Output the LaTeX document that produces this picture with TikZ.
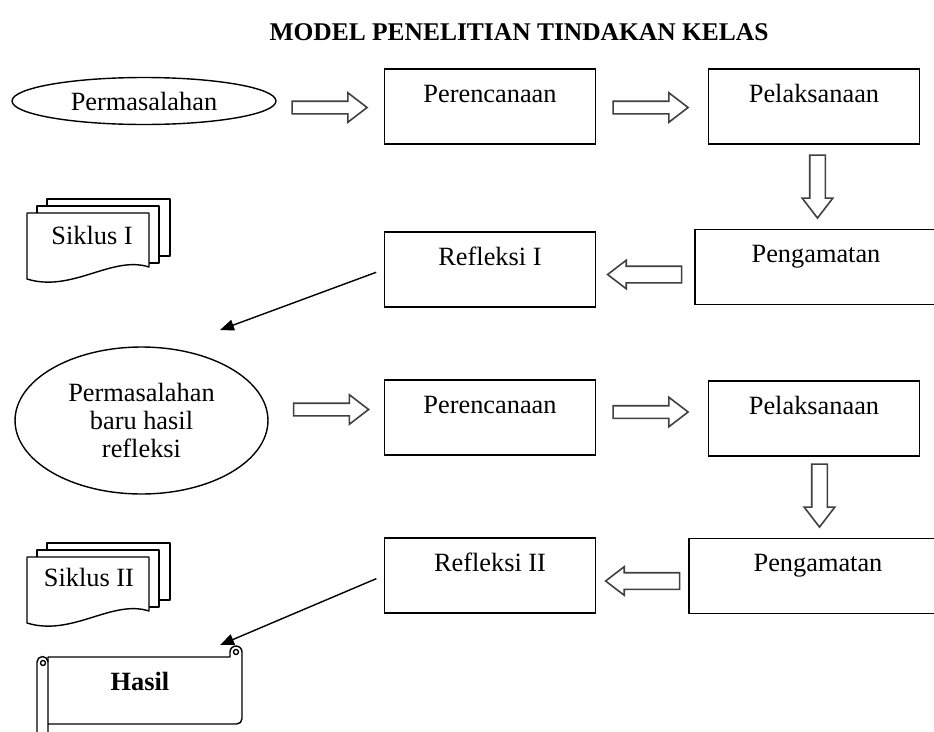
\documentclass[tikz,border=0pt]{standalone}
\usepackage{fontspec}
\setmainfont{Liberation Serif}
\usetikzlibrary{shapes.geometric, shapes.arrows, arrows.meta}
% stack of three sheets, #1,#2 = top-left corner of the front sheet
\providecommand{\multidoc}[2]{%
  \begin{scope}[shift={(#1,#2)}]
    \draw[sheet] (20,-7) -- (20,-14) -- (143,-14) -- (143,43) -- (132,43);
    \draw[sheet] (10,0) -- (10,-7) -- (132,-7) -- (132,50) -- (122,50);
    \draw[sheet, fill=white] (0,0) -- (122,0) -- (122,54)
      .. controls (85,42) and (45,80) .. (0,66) -- cycle;
  \end{scope}}

\begin{document}
\begin{tikzpicture}[
  x=0.02cm, y=-0.02cm,
  txt/.style    = {font=\fontsize{15}{16}\selectfont, inner sep=0pt},
  stage/.style  = {draw, line width=0.9pt, inner sep=0pt,
                   minimum width=4.22cm, text height=0.66cm, text depth=0.84cm,
                   font=\fontsize{15}{16}\selectfont},
  prob/.style   = {ellipse, draw, line width=0.8pt, inner sep=0pt, align=center,
                   font=\fontsize{15}{16}\selectfont},
  barrow/.style = {single arrow, draw=black!75, line width=0.9pt,
                   inner xsep=0pt, inner ysep=0.11cm,
                   minimum height=1.5cm, minimum width=0.56cm,
                   single arrow head extend=0.17cm, single arrow tip angle=75},
  darrow/.style = {barrow, rotate=-90, inner ysep=0.14cm, minimum height=1.26cm,
                   minimum width=0.58cm, single arrow head extend=0.15cm},
  larrow/.style = {barrow, rotate=180, inner ysep=0.15cm, minimum height=1.48cm,
                   minimum width=0.54cm, single arrow head extend=0.12cm},
  sheet/.style  = {draw, line width=0.8pt, line join=round},
  lead/.style   = {-{Triangle[length=0.28cm,width=0.22cm]}, line width=0.8pt,
                   shorten <=0.16cm},
  hd/.style     = {font=\fontsize{14.5}{17}\selectfont\bfseries, inner sep=0pt},
]
\clip (0,0) rectangle (934,731);
\fill[white] (0,0) rectangle (934,731);

\node[hd] (title) at (519,32) {MODEL PENELITIAN TINDAKAN KELAS};

% ---------- cycle I ----------
\node[prob, minimum width=5.28cm, minimum height=0.94cm] (probA) at (144,101) {Permasalahan};
\node[stage] (perA) at (490,106.5) {Perencanaan};
\node[stage] (pelA) at (814,106.5) {Pelaksanaan};
\node[stage, minimum width=4.84cm] (pengA) at (816,267) {Pengamatan};
\node[stage] (refA)  at (490,269.5) {Refleksi I};

\node[barrow] (arA1) at (325.5,107.5) {};
\node[barrow] (arA2) at (646.5,107.5) {};
\node[darrow] (arA3) at (817.5,181.5) {};
\node[larrow] (arA4) at (650,274.5) {};

\multidoc{27}{213}
\node[txt] (sikA) at (92,235) {Siklus I};

\coordinate (tipA) at (220,330);
\draw[lead] (refA.west) -- (tipA);

% ---------- cycle II ----------
\node[prob, minimum width=5.06cm, minimum height=2.94cm] (probB) at (141.5,420.5)
  {Permasalahan\\baru hasil\\refleksi};
\node[stage] (perB) at (490,417.5) {Perencanaan};
\node[stage] (pelB) at (814,418.5) {Pelaksanaan};
\node[stage, minimum width=5.16cm] (pengB) at (818,576) {Pengamatan};
\node[stage] (refB)  at (490,575.5) {Refleksi II};

\node[barrow] (arB1) at (327,409.5) {};
\node[barrow] (arB2) at (646.5,412) {};
\node[darrow] (arB3) at (819.5,490.5) {};
\node[larrow] (arB4) at (648,581) {};

\multidoc{27}{557}
\node[txt] (sikB) at (89,577) {Siklus II};

\coordinate (tipB) at (220,645);
\draw[lead] (refB.west) -- (tipB);

% ---------- result scroll ----------
\draw[sheet] (48,740) -- (48,657) -- (230,657) -- (230,652)
  arc[start angle=180, end angle=0, radius=0.12cm] -- (242,718)
  [rounded corners=3pt] -- (242,724) -- (48,724);
\draw[sheet] (236,652) circle[radius=0.05cm];
\draw[sheet] (37,740) -- (37,662) arc[start angle=180, end angle=0, radius=0.11cm];
\draw[sheet] (43,663) circle[radius=0.05cm];
\node[txt, font=\fontsize{15}{16}\selectfont\bfseries] (hasil) at (140,681) {Hasil};

\end{tikzpicture}
\end{document}
